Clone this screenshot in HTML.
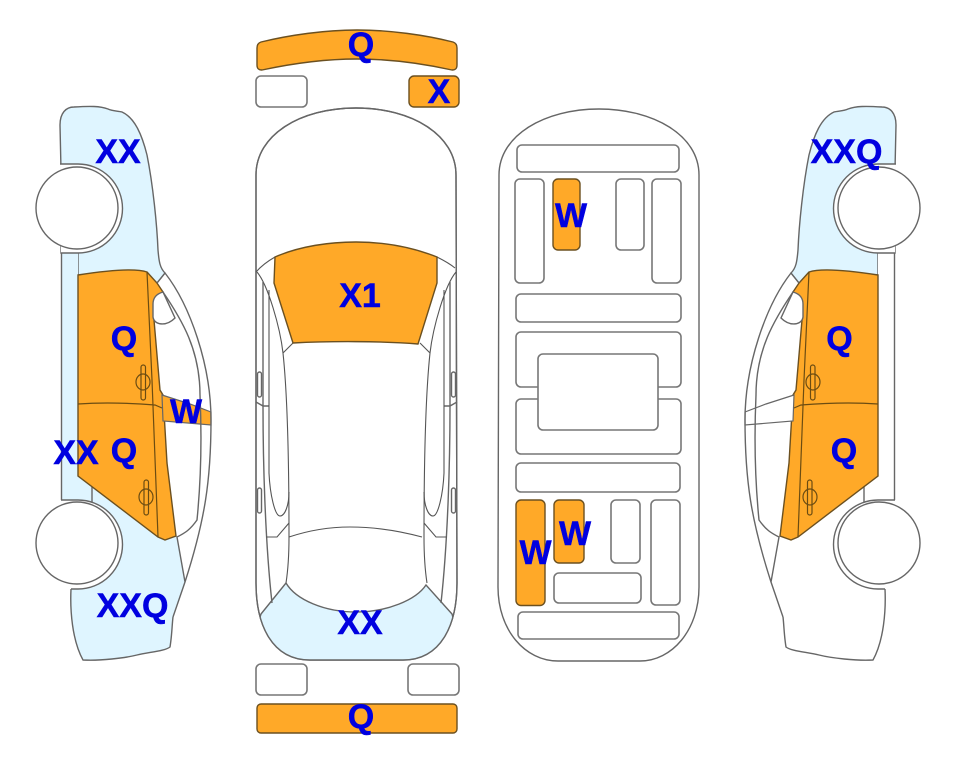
<!DOCTYPE html>
<html>
<head>
<meta charset="utf-8">
<style>
html,body{margin:0;padding:0;background:#fff;}
svg{display:block;}
text{font-family:"Liberation Sans",sans-serif;font-weight:bold;font-size:34px;fill:#0000e0;stroke:#0000e0;stroke-width:.5;text-anchor:middle;}
.s{fill:none;stroke:#666;stroke-width:1.4;}
.t{fill:none;stroke:#555;stroke-width:1.1;}
.b{fill:#dff5ff;stroke:#666;stroke-width:1.4;}
.w{fill:#fff;stroke:#666;stroke-width:1.4;}
.o{fill:#ffa928;stroke:#6b5020;stroke-width:1.4;}
.r{fill:#fff;stroke:#777;stroke-width:1.6;}
.ol{fill:none;stroke:#6b4c12;stroke-width:1.2;}
</style>
</head>
<body>
<svg width="963" height="768" viewBox="0 0 963 768" xmlns="http://www.w3.org/2000/svg">
<defs>
<clipPath id="body"><path d="M256 175 C256 135 300 108 356 108 C412 108 456 135 456 175 L457 583 C457 625 441 660 403 660 H310 C272 660 256 625 256 583 Z"/></clipPath>
<g id="car">
  <path class="b" d="M61 170 L60 125 C60 113 66 107 74 107 C90 106 100 106 108 109 C112 111 118 111 122 112 C135 118 142 135 147 155 C153 185 157 225 158 250 C159 262 160 268 165 273 L157 283 L147 290 L78 290 L78 253 L61 253 Z"/>
  <path style="fill:var(--low);stroke:none" d="M61 253 H78 V476 L92 487 L160 537 L177 537 L185 582 L173 617 C172 625 172 635 170 647 C165 651 150 652 137 655 C125 658 100 661 83 660 C72 640 70 610 71 589 L61 500 Z"/>
  <path class="s" d="M61.5 253 V500 M92 487 V502 M71 589 C70 610 72 640 83 660 C100 661 125 658 137 655 C150 652 165 651 170 647 C172 635 172 625 173 617"/>
  <path class="o" d="M78 275 C110 270 135 268 147 272 L157 283 L163 292 L154 300 L154 320 L160 390 L163 395 L167 463 L176 536 L165 540 L158 537 L78 476 Z"/>
  <path style="fill:var(--w);stroke:#666;stroke-width:1.2" d="M162 395 L190 404 L211 412 V425 L163 421 Z"/>
  <path class="ol" d="M147 272 L152 380 L158 537 M78 404 C105 402 130 403 155 405 L162 408"/>
  <rect class="ol" x="141" y="365" width="4.5" height="35" rx="2.2"/>
  <ellipse class="ol" cx="143" cy="382" rx="7" ry="8"/>
  <rect class="ol" x="144" y="480" width="4.5" height="35" rx="2.2"/>
  <ellipse class="ol" cx="146" cy="497" rx="7" ry="8"/>
  <path class="w" d="M163 292 C156 294 153 298 153 304 V317 C154 325 166 327 175 318 Z"/>
  <path class="s" d="M165 273 C190 305 211 365 211 420 C211 480 205 520 185 582 L173 617 M163 292 C182 320 200 350 200 395 C202 440 201 480 197 520 C190 530 185 533 177 537 L185 582 M165 273 L157 283"/>
  <path class="w" d="M60 164 H78 A44.5 44.5 0 0 1 78 253 H61"/>
  <path class="w" d="M61 500 H78 A44.5 44.5 0 0 1 78 589 H71"/>
  <circle class="w" cx="77" cy="208" r="41"/>
  <circle class="w" cx="77" cy="543" r="41"/>
</g>
<g id="half">
  <path class="t" d="M257 272 C268 285 280 327 283 353 C288 400 289 470 289 537 C289 555 288 570 286 583 M283 353 L293 343"/>
  <path class="s" d="M263 282 V406 M256 402 L263 406 H269 M263 406 C263 460 265 540 272 603"/>
  <path class="t" d="M269 290 V473 C270 495 275 516 280 516 C285 516 289 505 289 492 M266 537 H277 L289 523"/>
  <rect class="s" x="257.500" y="372" width="4" height="25" rx="2"/>
  <rect class="s" x="257.500" y="488" width="4" height="25" rx="2"/>
</g>
</defs>

<!-- left car -->
<g style="--low:#dff5ff;--w:#ffa928"><use href="#car"/></g>
<!-- right car -->
<g style="--low:#ffffff;--w:#ffffff" transform="translate(956,0) scale(-1,1)"><use href="#car"/></g>

<!-- top-view car -->
<path class="o" d="M257 48 C257 45 258 43 261 42 C290 35 325 30 357 30 C390 30 425 35 453 42 C456 43 457 45 457 48 V65 C457 69 455 70 452 70 C425 64 390 59 357 59 C325 59 290 64 262 70 C259 70 257 69 257 65 Z"/>
<rect class="r" x="256" y="76" width="51" height="31" rx="5"/>
<rect class="o" x="409" y="76" width="50" height="31" rx="5"/>
<path class="w" d="M256 175 C256 135 300 108 356 108 C412 108 456 135 456 175 L457 583 C457 625 441 660 403 660 H310 C272 660 256 625 256 583 Z"/>
<path class="b" clip-path="url(#body)" d="M261 614 L286 583 C296 600 325 612 356 612 C387 612 416 600 426 585 L452 614 L470 680 H240 Z"/>
<path class="s" d="M256 175 C256 135 300 108 356 108 C412 108 456 135 456 175 L457 583 C457 625 441 660 403 660 H310 C272 660 256 625 256 583 Z"/>
<path class="t" d="M256 272 C262 265 268 261 275 257 M455 268 C449 263 443 260 437 257"/>
<use href="#half"/>
<use href="#half" transform="translate(713,0) scale(-1,1)"/>
<path class="o" d="M275 257 C300 246 330 242 356 242 C385 242 412 247 437 257 L437 283 L418 344 C380 341 330 341 293 343 L274 283 Z"/>
<path class="t" d="M289 537 C310 530 330 527 350 527 C375 527 400 531 422 537"/>
<rect class="r" x="256" y="664" width="51" height="31" rx="5"/>
<rect class="r" x="408" y="664" width="51" height="31" rx="5"/>
<rect class="o" x="257" y="704" width="200" height="29" rx="4"/>

<!-- underbody -->
<path class="w" d="M499 175 C499 135 545 109 599 109 C653 109 699 135 699 175 L699 587 C699 630 672 661 640 661 H558 C525 661 498 630 498 587 Z"/>
<rect class="r" x="517" y="145" width="162" height="27" rx="5"/>
<rect class="r" x="515" y="179" width="29" height="104" rx="5"/>
<rect class="o" x="553" y="179" width="27" height="71" rx="5"/>
<rect class="r" x="616" y="179" width="28" height="71" rx="5"/>
<rect class="r" x="652" y="179" width="29" height="104" rx="5"/>
<rect class="r" x="516" y="294" width="165" height="28" rx="5"/>
<rect class="r" x="516" y="332" width="165" height="55" rx="5"/>
<rect class="r" x="516" y="399" width="165" height="55" rx="5"/>
<rect class="r" x="538" y="354" width="120" height="76" rx="5"/>
<rect class="r" x="516" y="463" width="164" height="29" rx="5"/>
<rect class="o" x="516" y="500" width="29" height="105.500" rx="5"/>
<rect class="o" x="554" y="500" width="30" height="63" rx="5"/>
<rect class="r" x="611" y="500" width="29" height="63" rx="5"/>
<rect class="r" x="651" y="500" width="29" height="105" rx="5"/>
<rect class="r" x="554" y="573" width="87" height="30" rx="5"/>
<rect class="r" x="518" y="612" width="161" height="27" rx="5"/>

<!-- labels -->
<text x="118" y="163">XX</text>
<text x="124" y="350">Q</text>
<text x="186" y="423">W</text>
<text x="76" y="464">XX</text>
<text x="124" y="462">Q</text>
<text x="132.500" y="617">XXQ</text>
<text x="361" y="56">Q</text>
<text x="439" y="103">X</text>
<text x="360" y="307">X1</text>
<text x="360" y="634">XX</text>
<text x="361" y="728">Q</text>
<text x="571" y="227">W</text>
<text x="535.500" y="564">W</text>
<text x="575" y="545">W</text>
<text x="846.500" y="163">XXQ</text>
<text x="839.500" y="350">Q</text>
<text x="844" y="462">Q</text>
</svg>
</body>
</html>
